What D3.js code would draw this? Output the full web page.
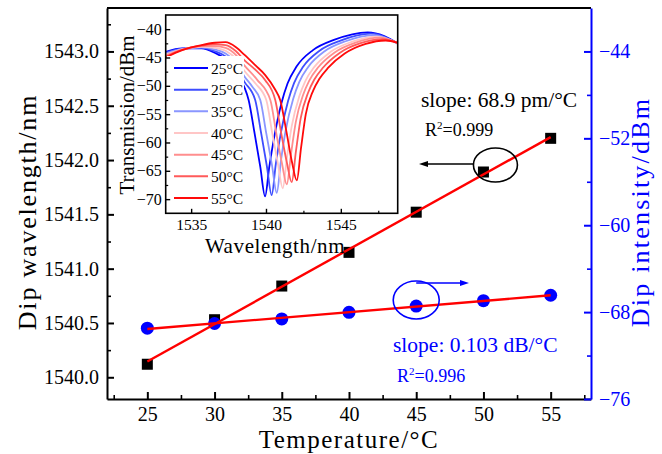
<!DOCTYPE html>
<html><head><meta charset="utf-8">
<script src="https://cdn.jsdelivr.net/npm/d3@7"></script>
<style>body{margin:0;background:#fff} svg{display:block} text{font-family:"Liberation Serif","Times New Roman",serif}</style>
</head><body>
<svg id="c" width="662" height="454"></svg>
<script>
// ---------- data ----------
const temps = [25, 30, 35, 40, 45, 50, 55];
const dipWavelength = [1540.12, 1540.53, 1540.84, 1541.15, 1541.52, 1541.89, 1542.20];
const dipIntensity = [-69.48, -69.05, -68.63, -68.02, -67.44, -66.95, -66.45];
const xTickValues = [25, 30, 35, 40, 45, 50, 55];
const leftTickValues = [1540.0, 1540.5, 1541.0, 1541.5, 1542.0, 1542.5, 1543.0];
const rightTickValues = [-76, -68, -60, -52, -44];
const insetXTicks = [1535, 1540, 1545];
const insetYTicks = [-70, -65, -60, -55, -50, -45, -40];
const legendLabels = ["25°C", "25°C", "35°C", "40°C", "45°C", "50°C", "55°C"];
const slopeTextLeft = "slope: 68.9 pm/°C";
const r2Left = "0.999";
const slopeTextRight = "slope: 0.103 dB/°C";
const r2Right = "0.996";

// inset spectra: [wavelength nm, transmission dBm]
const spec1 = [[1533.3,-44.0],[1534.4,-43.4],[1535.7,-43.4],[1536.6,-44.2],[1537.3,-45.3],[1538.0,-47.3],[1538.55,-50.2],
  [1538.84,-52.5],[1539.24,-58.4],[1539.62,-64.3],[1539.94,-69.5],[1540.22,-64.3],[1540.54,-59.2],[1541.04,-53.0],
  [1541.44,-49.6],[1542.04,-46.6],[1543.14,-43.7],[1544.54,-41.9],[1546.8,-40.55],[1547.9,-41.2],[1548.8,-42.5]];
const spec2 = [[1533.3,-44.17],[1534.4,-43.45],[1535.7,-43.3],[1536.6,-43.9],[1537.3,-44.8],[1538.0,-46.6],[1538.55,-49.25],
  [1539.28,-52.5],[1539.68,-58.4],[1540.06,-64.2],[1540.38,-69.3],[1540.66,-63.75],[1540.98,-58.5],[1541.48,-52.63],
  [1541.88,-49.47],[1542.48,-46.63],[1543.58,-43.8],[1544.98,-42.02],[1547.0,-40.8],[1548.8,-42.55]];
const spec3 = [[1533.3,-44.33],[1534.4,-43.5],[1535.7,-43.2],[1536.6,-43.6],[1537.3,-44.3],[1538.0,-45.93],[1538.55,-48.3],
  [1539.1,-50.2],[1539.62,-52.5],[1540.02,-58.4],[1540.40,-64.0],[1540.72,-68.9],[1541.0,-63.2],[1541.32,-57.8],
  [1541.82,-52.27],[1542.22,-49.33],[1542.82,-46.67],[1543.92,-43.9],[1545.32,-42.13],[1547.2,-41.05],[1548.8,-42.5]];
const spec4 = [[1533.3,-44.5],[1534.4,-43.55],[1535.7,-43.1],[1536.6,-43.3],[1537.3,-43.8],[1538.0,-45.25],[1538.55,-47.35],
  [1539.3,-49.6],[1540.02,-52.5],[1540.42,-58.4],[1540.80,-63.8],[1541.12,-68.1],[1541.40,-62.65],[1541.72,-57.1],
  [1542.22,-51.9],[1542.62,-49.2],[1543.22,-46.7],[1544.32,-44.0],[1545.72,-42.25],[1547.4,-41.3],[1548.8,-42.5]];
const spec5 = [[1533.3,-44.67],[1534.4,-43.6],[1535.7,-43.0],[1536.6,-43.0],[1537.3,-43.3],[1538.0,-44.57],[1538.55,-46.4],
  [1539.4,-48.9],[1540.29,-52.5],[1540.69,-58.4],[1541.07,-63.7],[1541.39,-67.4],[1541.67,-62.1],[1541.99,-56.4],
  [1542.49,-51.53],[1542.89,-49.07],[1543.49,-46.73],[1544.59,-44.1],[1545.99,-42.37],[1547.6,-41.5],[1548.8,-42.45]];
const spec6 = [[1533.3,-44.83],[1534.4,-43.65],[1535.7,-42.9],[1536.6,-42.7],[1537.3,-42.8],[1538.0,-43.9],[1538.55,-45.45],
  [1539.3,-47.2],[1539.95,-49.0],[1540.62,-52.5],[1541.02,-58.4],[1541.40,-63.6],[1541.72,-67.0],[1542.0,-61.55],
  [1542.32,-55.7],[1542.82,-51.17],[1543.22,-48.93],[1543.82,-46.77],[1544.92,-44.2],[1546.32,-42.48],[1547.8,-41.75],[1548.8,-42.4]];
const spec7 = [[1533.3,-45.0],[1534.4,-43.7],[1535.7,-42.8],[1536.6,-42.4],[1537.3,-42.3],[1538.0,-43.2],[1538.55,-44.5],
  [1539.3,-46.4],[1539.95,-48.1],[1540.6,-50.6],[1540.96,-52.6],[1541.36,-58.0],[1541.74,-63.5],[1542.06,-66.7],
  [1542.34,-61.0],[1542.66,-55.0],[1543.16,-50.8],[1543.56,-48.8],[1544.16,-46.8],[1545.26,-44.3],[1546.66,-42.6],
  [1548.0,-42.0],[1548.8,-42.4]];
const spectra = [spec1, spec2, spec3, spec4, spec5, spec6, spec7];
const specColors = ["#0000ff", "#3d4dff", "#8a96ff", "#ffc6c6", "#ff8e8e", "#ff5a5a", "#ff0a0a"];

// ---------- main chart ----------
const svg = d3.select("#c");
const M = {l: 107, r: 591, t: 8, b: 399};
const BLUE = "#0000ff";
const x = d3.scaleLinear().domain([22, 58]).range([M.l, M.r]);
const yL = d3.scaleLinear().domain([1539.8, 1543.4]).range([M.b, M.t]);
const yR = d3.scaleLinear().domain([-76, -40]).range([M.b, M.t]);

function styleAxis(g, color, fs) {
  g.select(".domain").attr("stroke", color).attr("stroke-width", 2);
  g.selectAll(".tick line").attr("stroke", color).attr("stroke-width", 2);
  g.selectAll(".tick text").attr("fill", color).style("font-size", fs + "px").style("font-family", '"Liberation Serif",serif');
}
function minor(g) {
  g.select(".domain").remove();
  g.selectAll(".tick line").attr("stroke-width", 1.6);
}

// minor ticks
const xMinor = d3.range(22.5, 58, 5);
svg.append("g").attr("transform", `translate(0,${M.b})`)
  .call(d3.axisBottom(x).tickValues(xMinor).tickSize(-4).tickFormat(""))
  .call(g => { minor(g); g.selectAll(".tick line").attr("stroke", "#000"); });
svg.append("g").attr("transform", `translate(${M.l},0)`)
  .call(d3.axisLeft(yL).tickValues(d3.range(1540.25, 1543.4, 0.5)).tickSize(-4).tickFormat(""))
  .call(g => { minor(g); g.selectAll(".tick line").attr("stroke", "#000"); });
svg.append("g").attr("transform", `translate(${M.r},0)`)
  .call(d3.axisRight(yR).tickValues([-72, -64, -56, -48]).tickSize(-4).tickFormat(""))
  .call(g => { minor(g); g.selectAll(".tick line").attr("stroke", BLUE); });

// top frame
svg.append("line").attr("x1", M.l).attr("x2", M.r).attr("y1", M.t).attr("y2", M.t)
  .attr("stroke", "#000").attr("stroke-width", 2);

svg.append("g").attr("transform", `translate(0,${M.b})`)
  .call(d3.axisBottom(x).tickValues(xTickValues).tickSizeInner(-7).tickSizeOuter(0).tickPadding(8))
  .call(g => styleAxis(g, "#000", 20));
svg.append("g").attr("transform", `translate(${M.l},0)`)
  .call(d3.axisLeft(yL).tickValues(leftTickValues).tickSizeInner(-7).tickSizeOuter(0).tickPadding(8).tickFormat(d3.format(".1f")))
  .call(g => styleAxis(g, "#000", 20));
svg.append("g").attr("transform", `translate(${M.r},0)`)
  .call(d3.axisRight(yR).tickValues(rightTickValues).tickSizeInner(-7).tickSizeOuter(0).tickPadding(8))
  .call(g => styleAxis(g, BLUE, 20));

// axis titles
svg.append("text").attr("x", 349).attr("y", 448).attr("text-anchor", "middle")
  .style("font-size", "25px").style("letter-spacing", "1.5px").text("Temperature/°C");
svg.append("text").attr("transform", "translate(36,212) rotate(-90)").attr("text-anchor", "middle")
  .style("font-size", "26px").style("letter-spacing", "1.8px").text("Dip wavelength/nm");
svg.append("text").attr("transform", "translate(649,212) rotate(-90)").attr("text-anchor", "middle")
  .attr("fill", BLUE).style("font-size", "26px").style("letter-spacing", "2.2px").text("Dip intensity/dBm");

// data points
const sq = 11;
svg.append("g").selectAll("rect").data(temps).join("rect")
  .attr("x", (d, i) => x(d) - sq / 2).attr("y", (d, i) => yL(dipWavelength[i]) - sq / 2)
  .attr("width", sq).attr("height", sq).attr("fill", "#000");
svg.append("g").selectAll("circle").data(temps).join("circle")
  .attr("cx", d => x(d)).attr("cy", (d, i) => yR(dipIntensity[i])).attr("r", 6.5).attr("fill", BLUE);

// linear fits (least squares of the data)
function fit(xs, ys) {
  const mx = d3.mean(xs), my = d3.mean(ys);
  const b = d3.sum(xs, (v, i) => (v - mx) * (ys[i] - my)) / d3.sum(xs, v => (v - mx) ** 2);
  return v => my + b * (v - mx);
}
const fL = fit(temps, dipWavelength), fR = fit(temps, dipIntensity);
const ext = d3.extent(temps);
const line = d3.line();
svg.append("path").attr("d", line(ext.map(t => [x(t), yL(fL(t))])))
  .attr("stroke", "#ff0000").attr("stroke-width", 2.4).attr("fill", "none");
svg.append("path").attr("d", line(ext.map(t => [x(t), yR(fR(t))])))
  .attr("stroke", "#ff0000").attr("stroke-width", 2.4).attr("fill", "none");

// annotations
function arrow(x1, y, x2, color) {
  const dir = Math.sign(x2 - x1);
  svg.append("line").attr("x1", x1).attr("x2", x2 - dir * 8).attr("y1", y).attr("y2", y)
    .attr("stroke", color).attr("stroke-width", 1.5);
  svg.append("path").attr("d", `M${x2},${y}L${x2 - dir * 9},${y - 3}L${x2 - dir * 9},${y + 3}Z`).attr("fill", color);
}
const i50 = temps.indexOf(50), i45 = temps.indexOf(45);
svg.append("ellipse").attr("cx", x(50) + 12).attr("cy", yL(dipWavelength[i50]) - 7).attr("rx", 22).attr("ry", 17)
  .attr("fill", "none").attr("stroke", "#000").attr("stroke-width", 1.6);
arrow(x(50) - 10, yL(dipWavelength[i50]) - 8, 419, "#000");
svg.append("ellipse").attr("cx", x(45)).attr("cy", yR(dipIntensity[i45]) - 6).attr("rx", 23).attr("ry", 19)
  .attr("fill", "none").attr("stroke", BLUE).attr("stroke-width", 1.6);
arrow(x(45), yR(dipIntensity[i45]) - 23, 469, BLUE);

svg.append("text").attr("x", 421).attr("y", 107).style("font-size", "21.5px").text(slopeTextLeft);
const r2a = svg.append("text").attr("x", 425).attr("y", 136).style("font-size", "18px");
r2a.append("tspan").text("R");
r2a.append("tspan").attr("dy", -7).style("font-size", "11px").text("2");
r2a.append("tspan").attr("dy", 7).text("=" + r2Left);
svg.append("text").attr("x", 393).attr("y", 352).attr("fill", BLUE).style("font-size", "21.5px").text(slopeTextRight);
const r2b = svg.append("text").attr("x", 397).attr("y", 382).attr("fill", BLUE).style("font-size", "18px");
r2b.append("tspan").text("R");
r2b.append("tspan").attr("dy", -7).style("font-size", "11px").text("2");
r2b.append("tspan").attr("dy", 7).text("=" + r2Right);

// ---------- inset ----------
const I = {l: 165.7, r: 397.7, t: 15, b: 213.3};
const ix = d3.scaleLinear().domain([1533.3, 1548.8]).range([I.l, I.r]);
const iy = d3.scaleLinear().domain([-72.5, -37.5]).range([I.b, I.t]);
const inset = svg.append("g");
inset.append("rect").attr("x", I.l).attr("y", I.t).attr("width", I.r - I.l).attr("height", I.b - I.t).attr("fill", "#fff");
svg.append("defs").append("clipPath").attr("id", "ic").append("rect")
  .attr("x", I.l).attr("y", I.t).attr("width", I.r - I.l).attr("height", I.b - I.t);
const sline = d3.line().x(d => ix(d[0])).y(d => iy(d[1])).curve(d3.curveMonotoneX);
inset.append("g").attr("clip-path", "url(#ic)").selectAll("path").data(spectra).join("path")
  .attr("d", sline).attr("fill", "none").attr("stroke", (d, i) => specColors[i]).attr("stroke-width", 1.8);

// legend
inset.append("rect").attr("x", I.l + 1).attr("y", 56).attr("width", 244 - I.l - 1).attr("height", I.b - 57).attr("fill", "#fff");
const lg = inset.append("g").selectAll("g").data(legendLabels).join("g")
  .attr("transform", (d, i) => `translate(0,${68 + i * 21.67})`);
lg.append("line").attr("x1", 174).attr("x2", 208).attr("stroke", (d, i) => specColors[i]).attr("stroke-width", 2);
lg.append("text").attr("x", 211).attr("y", 5.5).style("font-size", "15.5px").text(d => d);

// inset axes
inset.append("g").attr("transform", `translate(0,${I.b})`)
  .call(d3.axisBottom(ix).tickValues([1537.5, 1542.5, 1547.5]).tickSize(-2.5).tickFormat(""))
  .call(g => { minor(g); g.selectAll(".tick line").attr("stroke-width", 1.2); });
inset.append("g").attr("transform", `translate(${I.l},0)`)
  .call(d3.axisLeft(iy).tickValues(d3.range(-67.5, -40, 5)).tickSize(-2.5).tickFormat(""))
  .call(g => { minor(g); g.selectAll(".tick line").attr("stroke-width", 1.2); });
inset.append("g").attr("transform", `translate(0,${I.b})`)
  .call(d3.axisBottom(ix).tickValues(insetXTicks).tickSizeInner(-4.5).tickSizeOuter(0).tickPadding(6).tickFormat(d3.format("d")))
  .call(g => { styleAxis(g, "#000", 15.5); g.select(".domain").remove(); g.selectAll(".tick line").attr("stroke-width", 1.4); });
inset.append("g").attr("transform", `translate(${I.l},0)`)
  .call(d3.axisLeft(iy).tickValues(insetYTicks).tickSizeInner(-4.5).tickSizeOuter(0).tickPadding(4))
  .call(g => { styleAxis(g, "#000", 16); g.select(".domain").remove(); g.selectAll(".tick line").attr("stroke-width", 1.4); });
inset.append("rect").attr("x", I.l).attr("y", I.t).attr("width", I.r - I.l).attr("height", I.b - I.t)
  .attr("fill", "none").attr("stroke", "#000").attr("stroke-width", 1.6);
inset.append("text").attr("x", 275).attr("y", 253).attr("text-anchor", "middle").style("font-size", "21px")
  .style("letter-spacing", "0.6px").text("Wavelength/nm");
inset.append("text").attr("transform", "translate(134,115) rotate(-90)").attr("text-anchor", "middle")
  .style("font-size", "21px").text("Transmission/dBm");
</script>
</body></html>
